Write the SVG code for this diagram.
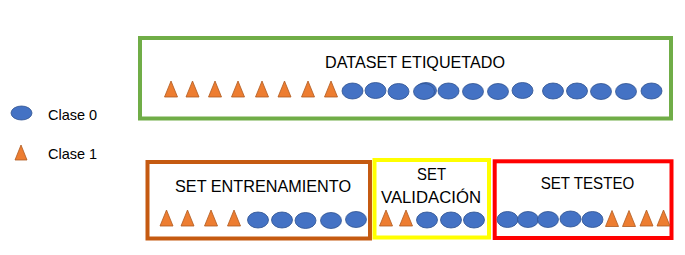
<svg xmlns="http://www.w3.org/2000/svg" xmlns:xlink="http://www.w3.org/1999/xlink" width="685" height="255" viewBox="0 0 685 255">
  <style>
    .box { fill: #FFFFFF; stroke-width: 4; }
    .c0 { fill: #4472C4; stroke: #2F528F; stroke-width: 0.8; }
    .c1 { fill: #ED7D31; stroke: #AE5A21; stroke-width: 0.8; }
    .title { font-family: "Liberation Sans", Arial, sans-serif; font-size: 17px; fill: #000000; text-anchor: middle; }
    .legend { font-family: "Liberation Sans", Arial, sans-serif; font-size: 14.5px; fill: #000000; }
  </style>
  <defs>
    <ellipse id="dot" cx="0" cy="0" rx="10.5" ry="8"/>
    <path id="tri" d="M0,-8 L6.5,8 L-6.5,8 Z"/>
  </defs>

  <rect width="685" height="255" fill="#FFFFFF"/>

  <!-- legend -->
  <g id="legend-clase0">
    <ellipse class="c0" cx="21.5" cy="113" rx="10.5" ry="7"/>
    <text class="legend" x="48" y="120">Clase 0</text>
  </g>
  <g id="legend-clase1">
    <path class="c1" d="M21,145 L27,160 L15,160 Z"/>
    <text class="legend" x="48" y="159">Clase 1</text>
  </g>

  <!-- full labelled dataset -->
  <g id="dataset">
    <rect class="box" x="140" y="38" width="531" height="80.5" stroke="#70AD47"/>
    <text class="title" x="415" y="68" textLength="180" lengthAdjust="spacingAndGlyphs">DATASET ETIQUETADO</text>
    <g class="c1">
      <use xlink:href="#tri" x="171" y="89"/>
      <use xlink:href="#tri" x="192.5" y="89"/>
      <use xlink:href="#tri" x="215" y="89"/>
      <use xlink:href="#tri" x="238" y="89"/>
      <use xlink:href="#tri" x="262" y="89"/>
      <use xlink:href="#tri" x="284.5" y="89"/>
      <use xlink:href="#tri" x="308" y="89"/>
      <use xlink:href="#tri" x="331" y="89"/>
    </g>
    <g class="c0">
      <use xlink:href="#dot" x="352.5" y="91"/>
      <use xlink:href="#dot" x="375.5" y="90.5"/>
      <use xlink:href="#dot" x="398.5" y="91.5"/>
      <use xlink:href="#dot" x="426" y="90.5"/>
      <use xlink:href="#dot" x="424" y="91.5"/>
      <use xlink:href="#dot" x="448.5" y="91"/>
      <use xlink:href="#dot" x="473" y="91.5"/>
      <use xlink:href="#dot" x="498" y="91.5"/>
      <use xlink:href="#dot" x="522.5" y="90.5"/>
      <use xlink:href="#dot" x="553" y="91"/>
      <use xlink:href="#dot" x="577" y="91"/>
      <use xlink:href="#dot" x="601" y="91.5"/>
      <use xlink:href="#dot" x="626" y="91.5"/>
      <use xlink:href="#dot" x="651.5" y="91"/>
    </g>
  </g>

  <!-- training split -->
  <g id="set-entrenamiento">
    <rect class="box" x="147.5" y="162" width="222.5" height="76.5" stroke="#C55A11"/>
    <text class="title" x="263" y="192" textLength="176" lengthAdjust="spacingAndGlyphs">SET ENTRENAMIENTO</text>
    <g class="c1">
      <use xlink:href="#tri" x="166.5" y="218"/>
      <use xlink:href="#tri" x="187.5" y="218"/>
      <use xlink:href="#tri" x="211" y="218"/>
      <use xlink:href="#tri" x="234" y="218"/>
    </g>
    <g class="c0">
      <use xlink:href="#dot" x="258" y="220"/>
      <use xlink:href="#dot" x="282" y="220"/>
      <use xlink:href="#dot" x="305.5" y="220.5"/>
      <use xlink:href="#dot" x="331" y="220.5"/>
      <use xlink:href="#dot" x="356" y="219.5"/>
    </g>
  </g>

  <!-- validation split -->
  <g id="set-validacion">
    <rect class="box" x="374.5" y="160" width="114.5" height="77.5" stroke="#FFFF00"/>
    <text class="title" x="431.5" y="180" textLength="29" lengthAdjust="spacingAndGlyphs">SET</text>
    <text class="title" x="431" y="203" textLength="100" lengthAdjust="spacingAndGlyphs">VALIDACIÓN</text>
    <g class="c1">
      <use xlink:href="#tri" x="386" y="218"/>
      <use xlink:href="#tri" x="406" y="218"/>
    </g>
    <g class="c0">
      <use xlink:href="#dot" x="427" y="220"/>
      <use xlink:href="#dot" x="451" y="220"/>
      <use xlink:href="#dot" x="474" y="220"/>
    </g>
  </g>

  <!-- test split -->
  <g id="set-testeo">
    <rect class="box" x="494.7" y="161.3" width="176.8" height="76.7" stroke="#FF0000"/>
    <text class="title" x="587.5" y="189.3" textLength="93.6" lengthAdjust="spacingAndGlyphs">SET TESTEO</text>
    <g class="c0">
      <use xlink:href="#dot" x="507.5" y="219.5"/>
      <use xlink:href="#dot" x="528" y="219.5"/>
      <use xlink:href="#dot" x="548" y="219.5"/>
      <use xlink:href="#dot" x="570.5" y="219"/>
      <use xlink:href="#dot" x="592.5" y="219.5"/>
    </g>
    <g class="c1">
      <use xlink:href="#tri" x="612" y="218.5"/>
      <use xlink:href="#tri" x="629" y="218.5"/>
      <use xlink:href="#tri" x="646.5" y="218"/>
      <use xlink:href="#tri" x="663.5" y="218"/>
    </g>
  </g>
</svg>
